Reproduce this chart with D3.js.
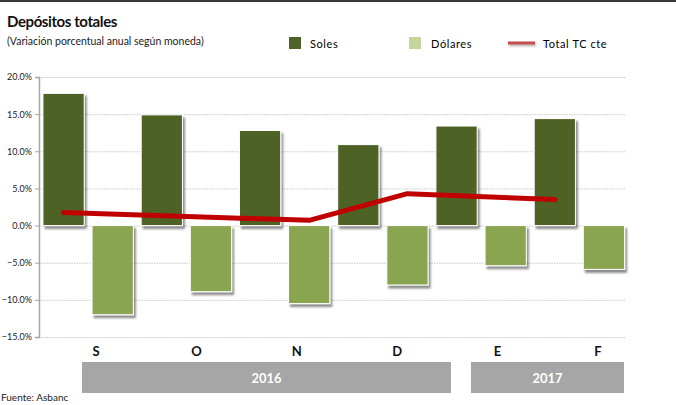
<!DOCTYPE html>
<html>
<head>
<meta charset="utf-8">
<script src="https://cdn.jsdelivr.net/npm/d3@7"></script>
<style>
  body { margin: 0; background: #fff; }
  svg { font-family: Lato, 'Open Sans', sans-serif; display: block; }
</style>
</head>
<body>
<div id="chart"></div>
<script>
const months = ['S', 'O', 'N', 'D', 'E', 'F']
const soles = [17.8, 14.9, 12.8, 10.9, 13.4, 14.4]
const dolares = [-12.0, -8.9, -10.5, -8.0, -5.4, -5.9]
// total TC cte, read at the slots where the line bends
const totalSlots = [0, 5, 7, 10]
const totalValues = [1.75, 0.7, 4.3, 3.5]
const yTicks = [20, 15, 10, 5, 0, -5, -10, -15]
const years = ['2016', '2017']

const width = 676
const height = 405
const margin = { top: 77, left: 39, right: 48, bottom: 68 }

const svg = d3
  .select('#chart')
  .append('svg')
  .attr('width', width)
  .attr('height', height)

// drop shadows
const defs = svg.append('defs')
defs
  .append('filter')
  .attr('id', 'shadow')
  .attr('x', '-20%')
  .attr('y', '-20%')
  .attr('width', '150%')
  .attr('height', '150%')
  .append('feDropShadow')
  .attr('dx', 2)
  .attr('dy', 3)
  .attr('stdDeviation', 1.3)
  .attr('flood-color', '#000')
  .attr('flood-opacity', 0.45)
defs
  .append('filter')
  .attr('id', 'lshadow')
  .attr('x', '-20%')
  .attr('y', '-100%')
  .attr('width', '150%')
  .attr('height', '400%')
  .append('feDropShadow')
  .attr('dx', 1)
  .attr('dy', 1.5)
  .attr('stdDeviation', 0.8)
  .attr('flood-opacity', 0.35)

// top frame line
svg
  .append('line')
  .attr('x1', 0)
  .attr('x2', width)
  .attr('y1', 1)
  .attr('y2', 1)
  .attr('stroke', '#3a3a3a')
  .attr('stroke-width', 2)

svg
  .append('text')
  .attr('x', 7)
  .attr('y', 27)
  .text('Depósitos totales')
  .style('font-weight', 700)
  .style('font-size', '15px')
  .style('letter-spacing', '-0.4px')
  .attr('fill', '#111')

svg
  .append('text')
  .attr('x', 7)
  .attr('y', 45)
  .text('(Variación porcentual anual según moneda)')
  .style('font-size', '10.5px')
  .attr('fill', '#222')

// 12 slots: Soles and Dólares alternating
const slots = d3.range(months.length * 2)
const x = d3
  .scaleBand()
  .domain(slots)
  .range([margin.left, width - margin.right + 0.5])
  .paddingInner(0.16)
  .paddingOuter(0.08)

const y = d3
  .scaleLinear()
  .domain([-15, 20])
  .range([height - margin.bottom, margin.top])

// gridlines
svg
  .append('g')
  .selectAll('line')
  .data(yTicks)
  .enter()
  .append('line')
  .attr('x1', margin.left)
  .attr('x2', 625)
  .attr('y1', d => y(d) + 0.5)
  .attr('y2', d => y(d) + 0.5)
  .attr('stroke', '#c9c9c9')
  .attr('stroke-dasharray', '1.5,1')

// y axis
const yAxis = svg
  .append('g')
  .attr('transform', `translate(${margin.left},0)`)
  .call(
    d3
      .axisLeft(y)
      .tickValues(yTicks)
      .tickSize(4)
      .tickPadding(3)
      .tickFormat(d => d3.format('.1f')(d) + '%')
  )
yAxis.select('.domain').attr('stroke', '#a6a6a6').attr('stroke-width', 1.5)
yAxis.selectAll('.tick line').attr('stroke', '#a6a6a6')
yAxis
  .selectAll('.tick text')
  .style('font-size', '9px')
  .style('font-family', 'Lato, sans-serif')
  .attr('fill', '#222')

const bars = []
months.forEach((m, i) => {
  bars.push({ slot: i * 2, value: soles[i], color: '#4f6228' })
  bars.push({ slot: i * 2 + 1, value: dolares[i], color: '#8aa550' })
})

svg
  .append('g')
  .selectAll('rect')
  .data(bars)
  .enter()
  .append('rect')
  .attr('x', d => x(d.slot))
  .attr('width', x.bandwidth())
  .attr('y', d => y(Math.max(0, d.value)))
  .attr('height', d => Math.abs(y(d.value) - y(0)))
  .attr('fill', d => d.color)
  .attr('stroke', '#fff')
  .attr('stroke-width', 1)
  .attr('filter', 'url(#shadow)')

// total line
const line = d3
  .line()
  .x((d, i) => x(totalSlots[i]) + x.bandwidth() / 2)
  .y(d => y(d))

svg
  .append('path')
  .datum(totalValues)
  .attr('d', line)
  .attr('fill', 'none')
  .attr('stroke', '#c00000')
  .attr('stroke-width', 5)
  .attr('stroke-linecap', 'round')
  .attr('stroke-linejoin', 'round')

// month labels
const xm = d3.scalePoint().domain(months).range([96, 598])
svg
  .append('g')
  .selectAll('text')
  .data(months)
  .enter()
  .append('text')
  .attr('x', d => xm(d))
  .attr('y', 356)
  .attr('text-anchor', 'middle')
  .text(d => d)
  .style('font-weight', 700)
  .style('font-size', '13px')
  .attr('fill', '#111')

// year boxes
const yearLeft = d3.scaleOrdinal().domain(years).range([82, 471])
const yearWidth = d3.scaleOrdinal().domain(years).range([369, 153])
const yg = svg
  .append('g')
  .selectAll('g')
  .data(years)
  .enter()
  .append('g')
yg.append('rect')
  .attr('x', d => yearLeft(d))
  .attr('y', 362)
  .attr('width', d => yearWidth(d))
  .attr('height', 31)
  .attr('fill', '#a6a6a6')
yg.append('text')
  .attr('x', d => yearLeft(d) + yearWidth(d) / 2)
  .attr('y', 383)
  .attr('text-anchor', 'middle')
  .text(d => d)
  .style('font-weight', 700)
  .style('font-size', '13px')
  .attr('fill', '#fff')

// source
svg
  .append('text')
  .attr('x', 1)
  .attr('y', 401)
  .style('font-size', '10px')
  .attr('fill', '#222')
  .text('Fuente: Asbanc')

// legend
const legend = svg.append('g')
legend
  .append('rect')
  .attr('x', 289)
  .attr('y', 37)
  .attr('width', 12)
  .attr('height', 12)
  .attr('fill', '#4f6228')
legend
  .append('text')
  .attr('x', 310)
  .attr('y', 48)
  .text('Soles')
  .style('font-size', '11px')
  .style('letter-spacing', '0.6px')
legend
  .append('rect')
  .attr('x', 409)
  .attr('y', 37)
  .attr('width', 12)
  .attr('height', 12)
  .attr('fill', '#c3d69b')
legend
  .append('text')
  .attr('x', 431)
  .attr('y', 48)
  .text('Dólares')
  .style('font-size', '11px')
  .style('letter-spacing', '0.6px')
legend
  .append('rect')
  .attr('x', 508)
  .attr('y', 41.5)
  .attr('width', 27)
  .attr('height', 3)
  .attr('fill', '#c0504d')
  .attr('filter', 'url(#lshadow)')
legend
  .append('text')
  .attr('x', 543)
  .attr('y', 48)
  .text('Total TC cte')
  .style('font-size', '11px')
  .style('letter-spacing', '0.6px')
</script>
</body>
</html>
